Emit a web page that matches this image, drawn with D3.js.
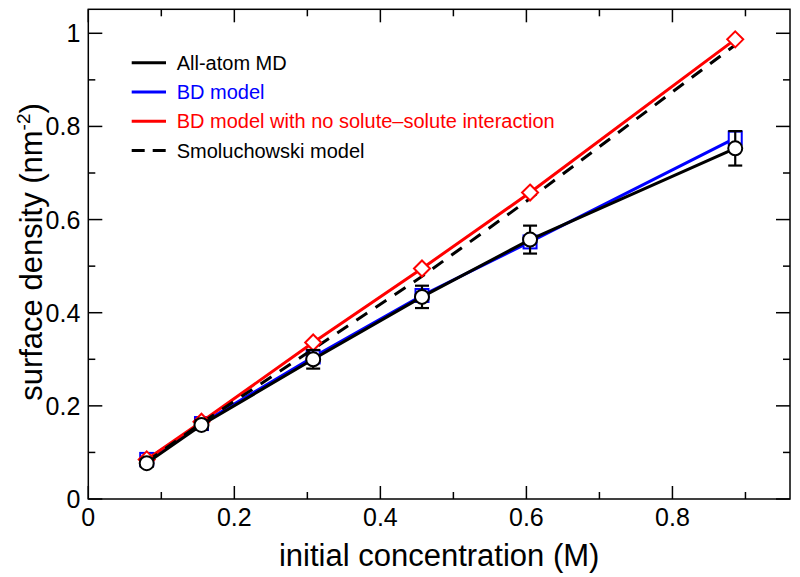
<!DOCTYPE html>
<html><head><meta charset="utf-8">
<script src="https://cdn.jsdelivr.net/npm/d3@7"></script>
<style>body{margin:0;background:#fff}svg{display:block}text{font-family:"Liberation Sans",Arial,sans-serif}</style>
</head><body><svg id="c" width="800" height="577"></svg>
<script>
const conc = [0.08, 0.155, 0.308, 0.457, 0.605, 0.886];
const allAtom = [0.077, 0.159, 0.300, 0.434, 0.557, 0.753];
const allAtomErr = [0.008, 0.010, 0.020, 0.024, 0.030, 0.037];
const bdModel = [0.085, 0.162, 0.305, 0.437, 0.552, 0.775];
const bdNoInt = [0.085, 0.166, 0.336, 0.495, 0.658, 0.987];
const smol = [0.080, 0.163, 0.322, 0.478, 0.645, 0.975];
const xTicks = [0, 0.2, 0.4, 0.6, 0.8];
const yTicks = [0, 0.2, 0.4, 0.6, 0.8, 1];
const legendLabels = ["All-atom MD", "BD model", "BD model with no solute\u2013solute interaction", "Smoluchowski model"];

const svg = d3.select("#c");
const L = 88.3, R = 790, T = 9.3, B = 499;
const x = d3.scaleLinear().domain([0, 0.961]).range([L, R]);
const y = d3.scaleLinear().domain([0, 1.0515]).range([B, T]);

// frame
svg.append("rect").attr("x", L).attr("y", T).attr("width", R - L).attr("height", B - T)
  .attr("fill", "none").attr("stroke", "#000").attr("stroke-width", 1.5);

const xMinor = d3.range(0.1, 0.96, 0.2);
const yMinor = d3.range(0.1, 1.05, 0.2);
const tk = svg.append("g").attr("stroke", "#000").attr("stroke-width", 1.5);
function xt(v, len){ tk.append("line").attr("x1", x(v)).attr("x2", x(v)).attr("y1", B).attr("y2", B - len);
  tk.append("line").attr("x1", x(v)).attr("x2", x(v)).attr("y1", T).attr("y2", T + len); }
function yt(v, len){ tk.append("line").attr("y1", y(v)).attr("y2", y(v)).attr("x1", L).attr("x2", L + len);
  tk.append("line").attr("y1", y(v)).attr("y2", y(v)).attr("x1", R).attr("x2", R - len); }
xTicks.forEach(v => xt(v, 13)); xMinor.forEach(v => xt(v, 7));
yTicks.forEach(v => yt(v, 14)); yMinor.forEach(v => yt(v, 7));

const fmt = v => v === 0 ? "0" : v === 1 ? "1" : d3.format(".1f")(v);
svg.append("g").selectAll("text").data(xTicks).join("text")
  .attr("x", d => x(d)).attr("y", B + 27).attr("text-anchor", "middle")
  .attr("font-size", 25).text(fmt);
svg.append("g").selectAll("text").data(yTicks).join("text")
  .attr("x", L - 8).attr("y", d => y(d) + 9).attr("text-anchor", "end")
  .attr("font-size", 25).text(fmt);

svg.append("text").attr("x", (L + R) / 2).attr("y", 566).attr("text-anchor", "middle")
  .attr("font-size", 31).text("initial concentration (M)");
const yl = svg.append("text").attr("transform", "translate(42,252) rotate(-90)")
  .attr("text-anchor", "middle").attr("font-size", 31);
yl.append("tspan").text("surface density (nm");
yl.append("tspan").attr("dy", -12).attr("font-size", 19).text("-2");
yl.append("tspan").attr("dy", 12).text(")");

const line = d3.line().x(d => x(d[0])).y(d => y(d[1]));
const pts = arr => conc.map((c, i) => [c, arr[i]]);

// BD model (blue)
svg.append("path").attr("d", line(pts(bdModel))).attr("fill", "none").attr("stroke", "#0000ff").attr("stroke-width", 3);
svg.append("g").selectAll("rect").data(pts(bdModel)).join("rect")
  .attr("x", d => x(d[0]) - 6.5).attr("y", d => y(d[1]) - 6.5).attr("width", 13).attr("height", 13)
  .attr("fill", "#fff").attr("stroke", "#0000ff").attr("stroke-width", 2);
// BD no interaction (red)
svg.append("path").attr("d", line(pts(bdNoInt))).attr("fill", "none").attr("stroke", "#ff0000").attr("stroke-width", 3);
// Smoluchowski dashed
svg.append("path").attr("d", line(pts(smol))).attr("fill", "none").attr("stroke", "#000").attr("stroke-width", 3)
  .attr("stroke-dasharray", "13,10");
svg.append("g").selectAll("path").data(pts(bdNoInt)).join("path")
  .attr("transform", d => `translate(${x(d[0])},${y(d[1])})`)
  .attr("d", "M0,-8L8,0L0,8L-8,0Z").attr("fill", "#fff").attr("stroke", "#ff0000").attr("stroke-width", 2);
// All-atom MD
svg.append("path").attr("d", line(pts(allAtom))).attr("fill", "none").attr("stroke", "#000").attr("stroke-width", 3);
const eb = svg.append("g").attr("stroke", "#000").attr("stroke-width", 2.2);
conc.forEach((c, i) => {
  const cx = x(c), y1 = y(allAtom[i] + allAtomErr[i]), y2 = y(allAtom[i] - allAtomErr[i]);
  eb.append("line").attr("x1", cx).attr("x2", cx).attr("y1", y1).attr("y2", y2);
  eb.append("line").attr("x1", cx - 7).attr("x2", cx + 7).attr("y1", y1).attr("y2", y1);
  eb.append("line").attr("x1", cx - 7).attr("x2", cx + 7).attr("y1", y2).attr("y2", y2);
});
svg.append("g").selectAll("circle").data(pts(allAtom)).join("circle")
  .attr("cx", d => x(d[0])).attr("cy", d => y(d[1])).attr("r", 7)
  .attr("fill", "#fff").attr("stroke", "#000").attr("stroke-width", 2);

// legend
const lg = svg.append("g");
const lcol = ["#000", "#0000ff", "#ff0000", "#000"];
legendLabels.forEach((t, i) => {
  const ly = 62.7 + i * 29.3;
  lg.append("line").attr("x1", 131.7).attr("x2", 166).attr("y1", ly).attr("y2", ly)
    .attr("stroke", lcol[i]).attr("stroke-width", 3).attr("stroke-dasharray", i === 3 ? "13,8" : null);
  lg.append("text").attr("x", 176.7).attr("y", ly + 7).attr("font-size", 20).attr("fill", lcol[i]).text(t);
});
</script></body></html>
